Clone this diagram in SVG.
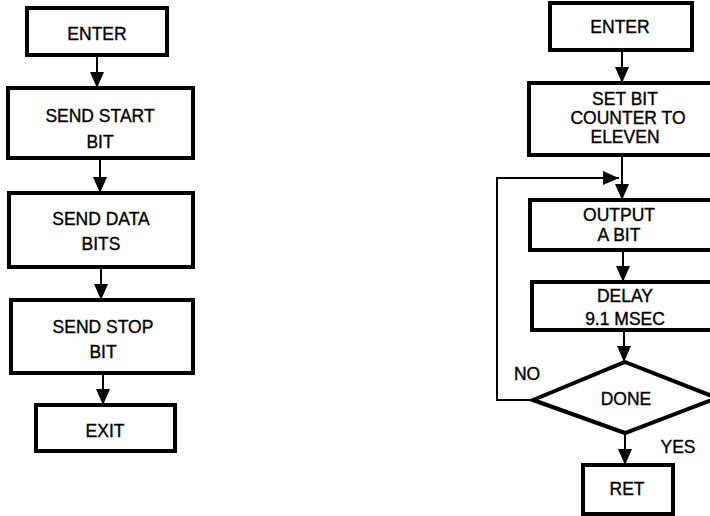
<svg xmlns="http://www.w3.org/2000/svg" width="710" height="516" viewBox="0 0 710 516">
<style>
.box{fill:#fff;stroke:#000;stroke-width:4}
.ln{fill:none;stroke:#000;stroke-width:2}
text{font-family:"Liberation Sans",Arial,sans-serif;font-size:17.5px;fill:#000;stroke:#000;stroke-width:0.35;text-anchor:middle}
</style>
<defs>
<marker id="av" markerWidth="14" markerHeight="16" refX="16" refY="7" orient="auto" markerUnits="userSpaceOnUse">
<path d="M0,0 L16,7 L0,14 Z" fill="#000"/>
</marker>
</defs>
<rect width="710" height="516" fill="#fff"/>
<g id="connectors">
<line class="ln" x1="97" y1="55" x2="97" y2="88" marker-end="url(#av)"/>
<line class="ln" x1="100" y1="158" x2="100" y2="193" marker-end="url(#av)"/>
<line class="ln" x1="101" y1="267" x2="101" y2="300" marker-end="url(#av)"/>
<line class="ln" x1="103" y1="373" x2="103" y2="405" marker-end="url(#av)"/>
<line class="ln" x1="622" y1="50" x2="622" y2="83" marker-end="url(#av)"/>
<line class="ln" x1="622" y1="155" x2="622" y2="200" marker-end="url(#av)"/>
<polyline class="ln" points="533,400 497,400 497,178 619,178" marker-end="url(#av)"/>
<line class="ln" x1="623" y1="250" x2="623" y2="282" marker-end="url(#av)"/>
<line class="ln" x1="624" y1="330" x2="624" y2="362" marker-end="url(#av)"/>
<line class="ln" x1="625" y1="433" x2="625" y2="465" marker-end="url(#av)"/>
<text x="527" y="380">NO</text>
<text x="678" y="453">YES</text>
</g>
<g id="l_enter"><rect class="box" x="27" y="8" width="140" height="47"/><text x="97" y="40">ENTER</text></g>
<g id="l_start"><rect class="box" x="8" y="88" width="185" height="70"/><text x="100" y="122">SEND START</text><text x="100" y="148">BIT</text></g>
<g id="l_data"><rect class="box" x="9" y="193" width="184" height="74"/><text x="101" y="225">SEND DATA</text><text x="101" y="250">BITS</text></g>
<g id="l_stop"><rect class="box" x="11" y="300" width="182" height="73"/><text x="103" y="333">SEND STOP</text><text x="103" y="358">BIT</text></g>
<g id="l_exit"><rect class="box" x="36" y="405" width="139" height="46"/><text x="105" y="437">EXIT</text></g>
<g id="r_enter"><rect class="box" x="550" y="3" width="142" height="47"/><text x="620" y="33">ENTER</text></g>
<g id="r_set"><rect class="box" x="529" y="83" width="200" height="72"/><text x="625" y="105">SET BIT</text><text x="628" y="124">COUNTER TO</text><text x="625" y="143">ELEVEN</text></g>
<g id="r_output"><rect class="box" x="530" y="200" width="200" height="50"/><text x="619" y="221">OUTPUT</text><text x="619" y="241">A BIT</text></g>
<g id="r_delay"><rect class="box" x="532" y="282" width="200" height="48"/><text x="625" y="302">DELAY</text><text x="625" y="325">9.1 MSEC</text></g>
<g id="r_done"><polygon class="box" points="625,362 717,398 625,433 533,400"/><text x="626" y="405">DONE</text></g>
<g id="r_ret"><rect class="box" x="583" y="465" width="90" height="49"/><text x="627" y="495">RET</text></g>
</svg>
